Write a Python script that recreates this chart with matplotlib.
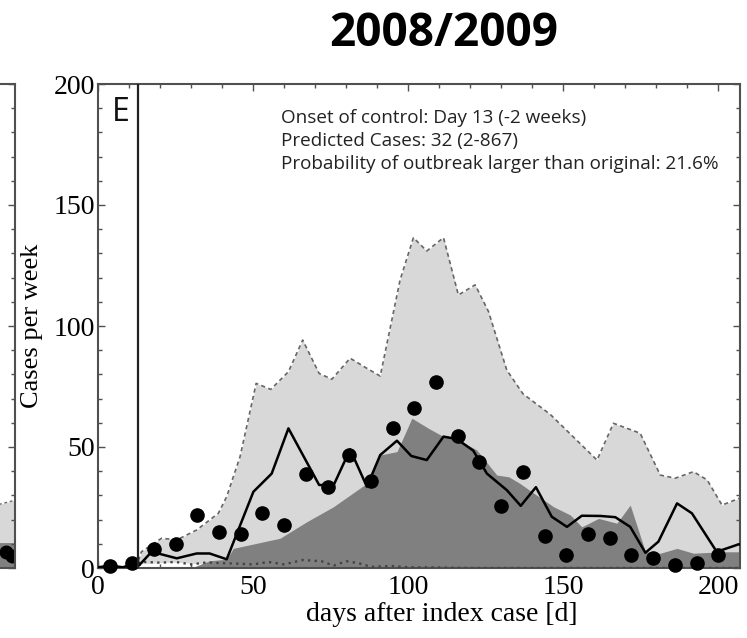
import numpy as np
import matplotlib
matplotlib.use('Agg')
import matplotlib.pyplot as plt
from matplotlib.ticker import MultipleLocator

# weekly reported cases (dots)
obs_days = [4, 11, 18, 25, 32, 39, 46, 53, 60, 67, 74, 81, 88, 95, 102, 109, 116, 123,
            130, 137, 144, 151, 158, 165, 172, 179, 186, 193, 200]
obs_cases = [1, 2, 7.7, 9.9, 21.8, 15, 14, 22.9, 17.8, 38.7, 33.5, 46.7, 36, 58, 66, 76.7,
             54.5, 43.9, 25.6, 39.8, 13.3, 5.4, 14, 12.3, 5.4, 4.3, 1.2, 2.2, 5.4]

# simulated trajectory (black line)
line_days = [0, 4, 8, 11, 13.3, 17.3, 25.4, 31.8, 36, 41.5, 50.1, 56, 61.4, 71.3, 76, 81.3,
             86.7, 91, 96.4, 101, 106, 111.4, 115.7, 121, 125.4, 131.8, 136.3, 141.2, 146.3,
             151.2, 156, 162, 166.8, 171.6, 176.5, 180.7, 186.7, 191.5, 199.5, 206.6, 209]
line_cases = [0.3, 1, 0.3, 1.5, 1.2, 6.7, 4, 6, 6, 3.6, 31.5, 39, 57.7, 34.3, 34.3, 49,
              33.6, 46.7, 52.6, 46.3, 44.6, 54.3, 53.3, 48.5, 39, 32.2, 25.7, 33.4, 21.2,
              17, 21.6, 21.5, 21, 17, 6.3, 10.9, 26.7, 22.6, 6.7, 9.8, 9.2]

# upper bound of prediction interval (dashed)
upper_days = [13, 14, 20.5, 25.4, 31.8, 38.8, 41.5, 45.8, 51, 55.7, 61.4, 66, 71.3, 75.4,
              81.3, 86.7, 91, 97.4, 101.7, 106, 111.4, 116.2, 121.6, 125.9, 131.8, 137,
              145.8, 160.9, 166.2, 174.8, 181.3, 186.1, 192, 196.4, 201.2, 208.2, 209]
upper_cases = [3, 6.7, 12.3, 11.6, 15.7, 22.6, 29.5, 46, 76.3, 73.8, 81.1, 94.2, 80.4, 78,
               86.7, 82.5, 79.3, 119, 136.5, 131, 136.5, 112.8, 117, 106, 81.8, 72,
               63.5, 44.6, 59.8, 55.7, 38.4, 37.1, 39.8, 36.4, 26, 29.5, 29.5]

# lower bound of prediction interval (dotted)
lower_days = [13, 15, 20, 25, 30, 35, 40, 45, 50, 55, 60, 66, 72, 76, 80, 84, 88, 95,
              100, 110, 120, 209]
lower_cases = [1, 2.5, 2.2, 2.5, 1.5, 2.3, 2, 1.8, 1.5, 2.5, 1.5, 3.3, 2.8, 1.0, 2.8, 2.0,
               0.5, 0.8, 0.3, 0.2, 0, 0]

# dark grey area
dark_days = [13, 30, 36, 41.5, 43.6, 58.7, 67.3, 75.9, 86.7, 91, 96.4, 101.2, 106.6,
             111.4, 116, 122.1, 128.6, 132.4, 136, 140.4, 146.9, 152.3, 156, 161.4, 167.3,
             171.6, 176.5, 181.3, 186.7, 192, 200.6, 209]
dark_cases = [0, 0, 3, 3.6, 8.1, 12.3, 19.1, 25.3, 35, 46.7, 48.1, 61.9, 57.7, 54.3, 53,
              48.8, 38.4, 37.7, 35, 31, 25.3, 21.9, 17, 20.5, 18.5, 26, 6.7, 6.1, 8.1, 6.1,
              6.7, 6.7]

# right end of the neighbouring panel (only a sliver is visible)
frag_days = [195, 201, 207]
frag_upper = [22, 26, 28]
frag_dark = [10, 10.5, 10.5]
frag_obs_days = [204, 206]
frag_obs_cases = [6.5, 5]

onset_day = 13
info_lines = ["Onset of control: Day 13 (-2 weeks)",
              "Predicted Cases: 32 (2-867)",
              "Probability of outbreak larger than original: 21.6%"]

light = '#d8d8d8'
dark = '#808080'
spine_col = '#505050'
serif = ['Liberation Serif', 'DejaVu Serif']
sans = ['Open Sans', 'DejaVu Sans']


def style_axes(ax):
    ax.set_xlim(0, 207)
    ax.set_ylim(0, 200)
    ax.xaxis.set_major_locator(MultipleLocator(50))
    ax.xaxis.set_minor_locator(MultipleLocator(10))
    ax.yaxis.set_major_locator(MultipleLocator(50))
    ax.yaxis.set_minor_locator(MultipleLocator(10))
    ax.tick_params(which='both', direction='in', top=True, right=True,
                   color=spine_col, width=1.0, labelsize=20)
    ax.tick_params(axis='y', pad=2)
    ax.tick_params(axis='x', pad=5)
    ax.tick_params(which='major', length=5)
    ax.tick_params(which='minor', length=3)
    for s in ax.spines.values():
        s.set_color(spine_col)
        s.set_linewidth(1.5)
    for lab in ax.get_xticklabels() + ax.get_yticklabels():
        lab.set_family(serif)


fig = plt.figure(figsize=(7.47, 6.38), dpi=100)

# sliver of previous panel
W, H = 747, 638
axf = fig.add_axes([(15 - 642) / W, 70 / H, 642 / W, 484 / H])
axf.fill_between(frag_days, 0, frag_upper, color=light, lw=0)
axf.fill_between(frag_days, 0, frag_dark, color=dark, lw=0)
axf.plot(frag_days, frag_upper, color='#666666', ls=(0, (2, 2)), lw=1)
axf.plot(frag_obs_days, frag_obs_cases, 'o', color='black', ms=9)
style_axes(axf)
axf.set_xticklabels([])
axf.set_yticklabels([])

# main panel
ax = fig.add_axes([98 / W, 70 / H, 642 / W, 484 / H])
up_i = np.interp(dark_days, upper_days, upper_cases)
ax.fill_between(upper_days, np.interp(upper_days, lower_days, lower_cases), upper_cases,
                color=light, lw=0, zorder=1)
ax.fill_between(dark_days, 0, np.minimum(dark_cases, up_i), color=dark, lw=0, zorder=2)
ax.plot(upper_days, upper_cases, color='#666666', ls=(0, (2.5, 2)), lw=1.2, zorder=3)
ax.plot(lower_days, lower_cases, color='#444444', ls=(0, (1, 1.8)), lw=1.7, zorder=3)
ax.plot(line_days, line_cases, color='black', lw=1.8, zorder=4)
ax.plot(obs_days, obs_cases, 'o', color='black', ms=9.5, zorder=5, clip_on=False)
ax.axvline(onset_day, color='#222222', lw=1.6, zorder=6)
style_axes(ax)

ax.set_xlabel('days after index case [d]', family=serif, fontsize=20)
ax.xaxis.set_label_coords(0.536, -0.07)
ax.xaxis.label.set_va('top')
ax.set_ylabel('Cases per week', family=serif, fontsize=19)
ax.yaxis.set_label_coords(-0.086, 0.5)

ax.text(0.022, 0.975, 'E', transform=ax.transAxes, family=sans, fontsize=23,
        ha='left', va='top', color='#111111')
for i, t in enumerate(info_lines):
    ax.text(0.285, 0.93 - i * 0.0475, t, transform=ax.transAxes, family=sans,
            fontsize=13.6, ha='left', va='center', color='#222222')

fig.text(444 / W, 1 - 33 / H, '2008/2009', family=sans, fontweight='bold',
         fontsize=33, ha='center', va='center')

fig.savefig('out.png', dpi=100)
